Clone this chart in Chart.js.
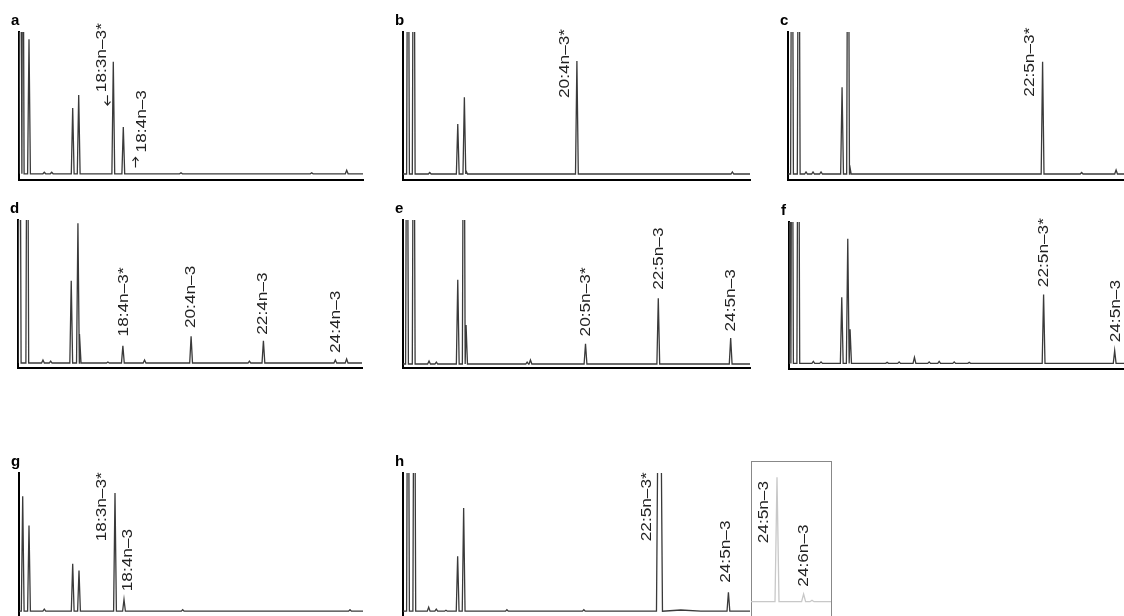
<!DOCTYPE html>
<html>
<head>
<meta charset="utf-8">
<title>FAME chromatograms</title>
<script src="https://cdn.jsdelivr.net/npm/chart.js@4.4.1/dist/chart.umd.min.js"></script>
<style>
  html, body { margin: 0; padding: 0; background: #fff; width: 1124px; height: 616px; overflow: hidden; position: relative; }
  canvas { position: absolute; }
</style>
</head>
<body>
<script>
'use strict';

// peaks: [retention (arbitrary units), height, half width]
const peaksA = [[1.5, 400], [3.7, 400], [10, 134], [25.3, 1.5], [32.7, 1.5], [53.7, 65.6], [59.7, 78.6],
  [94.3, 111.6], [104.3, 46.6], [162, 1], [292.7, 1], [327.7, 3.5]];
const peaksB = [[5, 400], [10.7, 400], [26.7, 1.5], [54.7, 50], [61.3, 76.7], [63, 3], [173.7, 113], [329, 2]];
const peaksC = [[4, 400], [10.7, 400], [18, 2], [25, 2], [33, 2], [54, 86.7], [60, 400], [61.7, 9],
  [254.3, 112.3], [293.3, 1.5], [327.7, 4]];
const peaksD = [[1.7, 400], [9.3, 400], [25, 3], [32.7, 2], [53.3, 82.3], [60, 140], [61.7, 29], [90, 1],
  [105, 17.3], [126.7, 3], [173.3, 26.7], [231.7, 2], [245.7, 22.3], [317.7, 3], [329, 4]];
const peaksE = [[4, 400], [10.7, 400], [26, 3], [33.3, 2], [54.7, 84.3], [60.7, 400], [63, 39], [124, 2],
  [127.3, 4], [182.3, 20.3], [255, 66], [327.3, 26]];
const peaksF = [[0.5, 400], [3, 400], [9.3, 400], [24.3, 2], [32, 1.5], [52.7, 66], [58.7, 124.3], [61, 34],
  [98, 1], [110, 1.5], [125.3, 6], [140, 1.5], [150, 2], [165, 1.5], [180, 1], [254.3, 68.7], [325.3, 12.7]];
const peaksG = [[3.7, 115], [10, 85.7], [25.3, 2], [53.7, 47.4], [60, 40.7], [96, 118.4], [105, 11.7],
  [163.7, 1.5], [331, 1.5]];
const peaksH = [[5, 400], [11.3, 400], [25.7, 4], [33.3, 2], [43, 1], [54.7, 55], [60.7, 103.4], [104, 1.5],
  [181, 1.5], [256.7, 400, 3], [278, 1.2, 20], [325.7, 19]];
const peaksInset = [[26, 124.4, 2], [52.6, 7.7, 2], [61, 1.5, 2]];

// labels: [text, retention, height] of the foot of the text
const labelsA = [['18:3n–3*', 82.7, 81.3], ['18:4n–3', 122.7, 21.3]];
// arrows: [direction, retention, height of the shaft middle]
const arrowsA = [['down', 87.7, 73.3], ['up', 116, 11.3]];
const labelsB = [['20:4n–3*', 161.3, 76]];
const labelsC = [['22:5n–3*', 241.7, 77.3]];
const labelsD = [['18:4n–3*', 105.7, 26.6], ['20:4n–3', 173.4, 35], ['22:4n–3', 245, 28.3], ['24:4n–3', 318.4, 10]];
const labelsE = [['20:5n–3*', 182.3, 27.6], ['22:5n–3', 255.6, 74.3], ['24:5n–3', 327.3, 32.6]];
const labelsF = [['22:5n–3*', 255, 76], ['24:5n–3', 326, 21]];
const labelsG = [['18:3n–3*', 82.7, 70], ['18:4n–3', 109.3, 20]];
const labelsH = [['22:5n–3*', 244, 70], ['24:5n–3', 323.3, 28.4]];
const labelsInset = [['24:5n–3', 12.6, 58.4], ['24:6n–3', 52.6, 15]];

const FONT = '"Liberation Sans", Arial, sans-serif';
const STRETCH = 1.15;

const peakLabels = {
  id: 'peakLabels',
  afterDatasetsDraw(chart, args, opts) {
    let ctx = chart.ctx,
      x = chart.scales.x,
      y = chart.scales.y,
      area = chart.chartArea;

    ctx.save();
    ctx.fillStyle = '#222';
    ctx.font = '15px ' + FONT;
    ctx.textAlign = 'left';
    ctx.textBaseline = 'middle';
    (opts.labels || []).forEach(([text, lx, ly]) => {
      ctx.save();
      ctx.translate(x.getPixelForValue(lx), y.getPixelForValue(ly));
      ctx.rotate(-Math.PI / 2);
      ctx.scale(STRETCH, 1);
      ctx.fillText(text, 0, 0);
      ctx.restore();
    });

    ctx.strokeStyle = '#222';
    ctx.lineWidth = 1.1;
    (opts.arrows || []).forEach(([dir, ax, ay]) => {
      let px = Math.round(x.getPixelForValue(ax)) + 0.5,
        py = y.getPixelForValue(ay),
        s = dir === 'up' ? -1 : 1,
        tip = py + s * 5;
      ctx.beginPath();
      ctx.moveTo(px, py - s * 5);
      ctx.lineTo(px, tip);
      ctx.moveTo(px - 3, tip - s * 3.5);
      ctx.lineTo(px, tip);
      ctx.lineTo(px + 3, tip - s * 3.5);
      ctx.stroke();
    });

    if (opts.letter) {
      ctx.fillStyle = '#000';
      ctx.font = 'bold 15px ' + FONT;
      ctx.textAlign = 'left';
      ctx.textBaseline = 'alphabetic';
      ctx.fillText(opts.letter, area.left - 8, area.top - 7);
    }
    ctx.restore();
  }
};

function buildTrace(peaks, xMax) {
  let points = [{x: 0, y: 0}],
    lastX = 0;
  peaks.forEach(([rt, h, hw = 1.4]) => {
    points.push({x: Math.max(rt - hw, lastX), y: 0}, {x: rt, y: h});
    lastX = rt + hw;
    points.push({x: lastX, y: 0});
  });
  points.push({x: xMax, y: 0});
  return points;
}

function axisOpts(min, max, color, width) {
  return {
    type: 'linear',
    min: min,
    max: max,
    grid: {display: false, drawTicks: false},
    ticks: {display: false},
    border: {display: true, color: color, width: width}
  };
}

// frame: page position of the axes (l, t, r, b) and of the trace baseline
function _buildPanel(frame, peaks, labels, extra) {
  let canvas = document.createElement('canvas'),
    pad = 36,
    w = frame.r - frame.l + 2 * pad,
    h = frame.b - frame.t + 2 * pad,
    xMax = frame.r - frame.l,
    style = extra.style || {};

  canvas.width = Math.round(w);
  canvas.height = Math.round(h);
  canvas.style.left = (frame.l - pad) + 'px';
  canvas.style.top = (frame.t - pad) + 'px';
  document.body.appendChild(canvas);

  let scales = {
    x: axisOpts(0, xMax, style.axis || '#000', style.axisWidth || 2),
    y: axisOpts(frame.base - frame.b, frame.base - frame.t, style.axis || '#000', style.axisWidth || 2)
  };
  if (style.box) {
    scales.xTop = Object.assign(axisOpts(0, xMax, style.axis, style.axisWidth), {position: 'top'});
    scales.yRight = Object.assign(axisOpts(0, 1, style.axis, style.axisWidth), {position: 'right'});
  }

  new Chart(canvas, {
    type: 'line',
    data: {
      datasets: [{
        data: buildTrace(peaks, xMax),
        borderColor: style.line || '#3a3a3a',
        borderWidth: 1.3,
        pointRadius: 0,
        tension: 0,
        fill: false
      }]
    },
    options: {
      responsive: false,
      animation: false,
      devicePixelRatio: 1,
      layout: {padding: {left: pad, top: pad, right: pad, bottom: pad}},
      scales: scales,
      plugins: {
        legend: {display: false},
        tooltip: {enabled: false},
        peakLabels: {letter: extra.letter, labels: labels, arrows: extra.arrows}
      }
    },
    plugins: [peakLabels]
  });
}

function buildCharts() {
  _buildPanel({l: 19, t: 32, r: 363, b: 179.5, base: 173.3}, peaksA, labelsA, {letter: 'a', arrows: arrowsA});
  _buildPanel({l: 402.7, t: 32, r: 749.3, b: 180, base: 174}, peaksB, labelsB, {letter: 'b'});
  _buildPanel({l: 788.3, t: 32, r: 1134.9, b: 180, base: 174}, peaksC, labelsC, {letter: 'c'});
  _buildPanel({l: 18.3, t: 220, r: 362.7, b: 368.3, base: 363.3}, peaksD, labelsD, {letter: 'd'});
  _buildPanel({l: 402.7, t: 220, r: 749.3, b: 368.3, base: 364.3}, peaksE, labelsE, {letter: 'e'});
  _buildPanel({l: 789, t: 221.7, r: 1135.6, b: 368.3, base: 362.7}, peaksF, labelsF, {letter: 'f'});
  _buildPanel({l: 19, t: 473.3, r: 363, b: 617.5, base: 611.7}, peaksG, labelsG, {letter: 'g'});
  _buildPanel({l: 402.7, t: 473.3, r: 750, b: 617.5, base: 611.7}, peaksH, labelsH, {letter: 'h'});
  _buildPanel({l: 750.7, t: 461, r: 830.7, b: 640, base: 601.7}, peaksInset, labelsInset,
    {style: {axis: '#888', axisWidth: 1, line: '#c8c8c8', box: true}});
}

buildCharts();
</script>
</body>
</html>
